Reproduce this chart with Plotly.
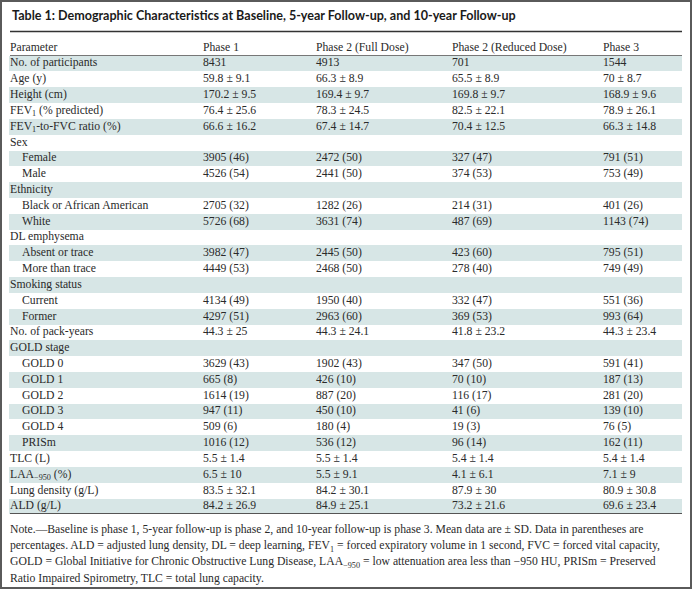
import plotly.graph_objects as go

title = "Table 1: Demographic Characteristics at Baseline, 5-year Follow-up, and 10-year Follow-up"
headers = ["Parameter", "Phase 1", "Phase 2 (Full Dose)", "Phase 2 (Reduced Dose)", "Phase 3"]

parameters = [
    "No. of participants", "Age (y)", "Height (cm)", "FEV<sub>1</sub> (% predicted)",
    "FEV<sub>1</sub>-to-FVC ratio (%)", "Sex", "Female", "Male", "Ethnicity",
    "Black or African American", "White", "DL emphysema", "Absent or trace",
    "More than trace", "Smoking status", "Current", "Former", "No. of pack-years",
    "GOLD stage", "GOLD 0", "GOLD 1", "GOLD 2", "GOLD 3", "GOLD 4", "PRISm",
    "TLC (L)", "LAA<sub>−950</sub> (%)", "Lung density (g/L)", "ALD (g/L)",
]
indented = [False, False, False, False, False, False, True, True, False, True, True,
            False, True, True, False, True, True, False, False, True, True, True, True,
            True, True, False, False, False, False]

phase1 = ["8431", "59.8 ± 9.1", "170.2 ± 9.5", "76.4 ± 25.6", "66.6 ± 16.2", "",
          "3905 (46)", "4526 (54)", "", "2705 (32)", "5726 (68)", "", "3982 (47)",
          "4449 (53)", "", "4134 (49)", "4297 (51)", "44.3 ± 25", "", "3629 (43)",
          "665 (8)", "1614 (19)", "947 (11)", "509 (6)", "1016 (12)", "5.5 ± 1.4",
          "6.5 ± 10", "83.5 ± 32.1", "84.2 ± 26.9"]
phase2_full = ["4913", "66.3 ± 8.9", "169.4 ± 9.7", "78.3 ± 24.5", "67.4 ± 14.7", "",
               "2472 (50)", "2441 (50)", "", "1282 (26)", "3631 (74)", "", "2445 (50)",
               "2468 (50)", "", "1950 (40)", "2963 (60)", "44.3 ± 24.1", "", "1902 (43)",
               "426 (10)", "887 (20)", "450 (10)", "180 (4)", "536 (12)", "5.5 ± 1.4",
               "5.5 ± 9.1", "84.2 ± 30.1", "84.9 ± 25.1"]
phase2_reduced = ["701", "65.5 ± 8.9", "169.8 ± 9.7", "82.5 ± 22.1", "70.4 ± 12.5", "",
                  "327 (47)", "374 (53)", "", "214 (31)", "487 (69)", "", "423 (60)",
                  "278 (40)", "", "332 (47)", "369 (53)", "41.8 ± 23.2", "", "347 (50)",
                  "70 (10)", "116 (17)", "41 (6)", "19 (3)", "96 (14)", "5.4 ± 1.4",
                  "4.1 ± 6.1", "87.9 ± 30", "73.2 ± 21.6"]
phase3 = ["1544", "70 ± 8.7", "168.9 ± 9.6", "78.9 ± 26.1", "66.3 ± 14.8", "",
          "791 (51)", "753 (49)", "", "401 (26)", "1143 (74)", "", "795 (51)",
          "749 (49)", "", "551 (36)", "993 (64)", "44.3 ± 23.4", "", "591 (41)",
          "187 (13)", "281 (20)", "139 (10)", "76 (5)", "162 (11)", "5.4 ± 1.4",
          "7.1 ± 9", "80.9 ± 30.8", "69.6 ± 23.4"]

note_lines = [
    "Note.—Baseline is phase 1, 5-year follow-up is phase 2, and 10-year follow-up is phase 3. Mean data are ± SD. Data in parentheses are",
    "percentages. ALD = adjusted lung density, DL = deep learning, FEV<sub>1</sub> = forced expiratory volume in 1 second, FVC = forced vital capacity,",
    "GOLD = Global Initiative for Chronic Obstructive Lung Disease, LAA<sub>−950</sub> = low attenuation area less than −950 HU, PRISm = Preserved",
    "Ratio Impaired Spirometry, TLC = total lung capacity.",
]

# ---- layout constants (pixels) ----
W, H = 692, 589
ROW0 = 63.5      # pixel centre of first body row
ROWH = 15.82     # row pitch
col_x = [10, 203, 316, 452, 603]
indent_x = 22
shade_left, shade_right = 9, 682

SERIF = "Liberation Serif"
FS = 11.7
TXT = "#2a2a2a"
SHADE = "#d7e6e6"

n = len(parameters)
rows = list(range(n))
y_bottom = (H - ROW0) / ROWH
y_top = -ROW0 / ROWH

fig = go.Figure()

# shaded rows
shaded = [i for i in rows if i % 2 == 0]
fig.add_trace(go.Bar(
    y=shaded, x=[shade_right - shade_left] * len(shaded), base=shade_left,
    orientation="h", width=1.0, marker=dict(color=SHADE, line=dict(width=0)),
    hoverinfo="skip", showlegend=False,
))


def text_trace(xs, ys, texts, size=FS, color=TXT, family=SERIF):
    keep = [k for k, t in enumerate(texts) if t]
    return go.Scatter(
        x=[xs[k] for k in keep], y=[ys[k] for k in keep], text=[texts[k] for k in keep],
        mode="text", textposition="middle right",
        textfont=dict(family=family, size=size, color=color),
        hoverinfo="skip", showlegend=False,
    )


# header row
fig.add_trace(text_trace(col_x, [-1] * len(headers), headers))

# parameter column
fig.add_trace(text_trace([indent_x if ind else col_x[0] for ind in indented], rows, parameters))
for k, col in enumerate([phase1, phase2_full, phase2_reduced, phase3]):
    fig.add_trace(text_trace([col_x[k + 1]] * n, rows, col))

# note lines
note_top = (530 - ROW0) / ROWH
note_rows = [note_top + k * (16.2 / ROWH) for k in range(len(note_lines))]
fig.add_trace(text_trace([col_x[0]] * len(note_lines), note_rows, note_lines, size=11.7))

# title
fig.add_annotation(text="<b>" + title + "</b>", x=10 / W, y=1 - 15 / H, xref="paper", yref="paper",
                   xanchor="left", yanchor="middle", showarrow=False,
                   font=dict(family="Lato", size=12.55, color="#1a1a1a"))

shapes = [
    dict(type="line", xref="paper", yref="paper", x0=10 / W, x1=682 / W,
         y0=1 - 31.5 / H, y1=1 - 31.5 / H, line=dict(color="#333333", width=1.5)),
    dict(type="line", xref="paper", yref="paper", x0=10 / W, x1=682 / W,
         y0=1 - 55.5 / H, y1=1 - 55.5 / H, line=dict(color="#777777", width=1)),
    dict(type="line", xref="paper", yref="paper", x0=10 / W, x1=682 / W,
         y0=1 - 513.5 / H, y1=1 - 513.5 / H, line=dict(color="#555555", width=1.2)),
    dict(type="rect", xref="paper", yref="paper", x0=1 / W, x1=1 - 1 / W, y0=1 / H, y1=1 - 1 / H,
         line=dict(color="#5a5a5a", width=2)),
]

fig.update_layout(
    width=W, height=H, margin=dict(l=0, r=0, t=0, b=0),
    paper_bgcolor="white", plot_bgcolor="white",
    xaxis=dict(range=[0, W], visible=False, fixedrange=True),
    yaxis=dict(range=[y_bottom, y_top], visible=False, fixedrange=True),
    shapes=shapes, bargap=0,
)

fig.write_html(
    "out.html",
    config={"displayModeBar": False},
    post_script="document.body.style.margin='0';document.body.style.overflow='hidden';",
)
